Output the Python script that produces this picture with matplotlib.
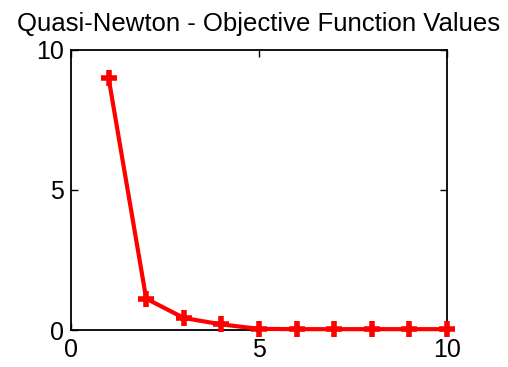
import matplotlib
matplotlib.use("Agg")
import matplotlib.pyplot as plt

plt.rcParams["font.family"] = ["Liberation Sans", "DejaVu Sans"]

iterations = [1, 2, 3, 4, 5, 6, 7, 8, 9, 10]
objective = [9.0, 1.12, 0.43, 0.2, 0.04, 0.03, 0.03, 0.03, 0.03, 0.03]

fig = plt.figure(figsize=(5.08, 3.67), dpi=100)
ax = fig.add_axes([71 / 508, 1 - 330 / 367, 376 / 508, 280 / 367])
ax.plot(iterations, objective, color="red", linewidth=3, marker="+",
        markersize=11, markeredgewidth=4, clip_on=False, zorder=3)
ax.set_xlim(0, 10)
ax.set_ylim(0, 10)
ax.set_xticks([0, 5, 10])
ax.set_yticks([0, 5, 10])
ax.tick_params(direction="in", top=True, right=True, length=5, width=1,
               labelsize=18, pad=5)
ax.tick_params(axis="x", pad=6)
for side in ax.spines.values():
    side.set_linewidth(1.3)
ax.set_title("Quasi-Newton - Objective Function Values", fontsize=18.5, pad=14)
fig.savefig("out.png", dpi=100)
